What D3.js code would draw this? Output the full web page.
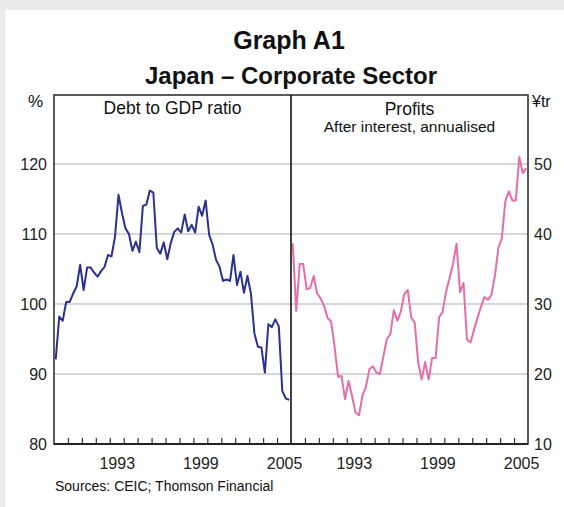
<!DOCTYPE html>
<html>
<head>
<meta charset="utf-8">
<script src="https://d3js.org/d3.v7.min.js"></script>
<style>
body {margin: 0; background: #ebebeb;}
svg {display: block; font-family: Arial, "Liberation Sans", sans-serif;}
.grid line {stroke: #a9aeb4; stroke-width: 1.2;}
.frame {stroke: #333; stroke-width: 1.6; fill: none;}
.lbl text {font-size: 16px; fill: #222;}
.lbl path {display: none;}
.ticks path {display: none;}
.ticks line {stroke: #333; stroke-width: 1.2;}
</style>
</head>
<body>
<svg width=564 height=507></svg>
<script>
// quarterly, 1989 Q1 .. 2005 Q4
var debtToGdp = [
  92.1, 98.2, 97.6, 100.3,
  100.3, 101.5, 102.5, 105.6,
  102.0, 105.2, 105.2, 104.5,
  103.9, 104.7, 105.3, 107.0,
  106.8, 109.6, 115.6, 113.0,
  110.8, 110.0, 107.6, 108.9,
  107.4, 114.0, 114.2, 116.2,
  115.9, 108.0, 107.2, 108.8,
  106.4, 108.7, 110.3, 110.8,
  110.2, 112.8, 110.4, 111.3,
  110.2, 113.9, 112.6, 114.8,
  109.9, 108.5, 106.3, 105.3,
  103.3, 103.5, 103.3, 107.0,
  102.7, 104.6, 101.6, 104.0,
  101.5, 95.8, 93.9, 93.8,
  90.2, 97.1, 96.7, 97.8,
  96.8, 87.6, 86.5, 86.3
];
var profits = [
  38.7, 29.0, 35.7, 35.7,
  32.1, 32.3, 34.0, 31.5,
  30.8, 29.7, 28.0, 27.5,
  23.9, 19.6, 19.7, 16.4,
  19.0, 16.9, 14.5, 14.1,
  16.9, 18.2, 20.7, 21.1,
  20.2, 20.0, 22.5, 25.0,
  25.7, 29.1, 27.6, 28.9,
  31.4, 32.0, 28.1, 27.3,
  21.6, 19.2, 21.7, 19.2,
  22.3, 22.3, 28.1, 28.9,
  31.8, 33.7, 35.8, 38.6,
  31.7, 33.0, 24.9, 24.5,
  26.3, 28.0, 29.6, 31.0,
  30.6, 31.3, 34.0, 38.0,
  39.4, 44.7, 46.1, 44.8,
  44.8, 51.0, 48.7, 49.4
];
var leftTicks = [80, 90, 100, 110, 120];
var rightTicks = [10, 20, 30, 40, 50];
var yearLabels = [1993, 1999, 2005];
var startYear = 1989, endYear = 2006;

var svg = d3.select("svg");
svg.append("rect").attr("x", 5).attr("y", 10).attr("width", 559).attr("height", 497).attr("fill", "white");

var pTop = 95, pBottom = 444, pLeft = 54, pMid = 291, pRight = 528;

var xL = d3.scaleLinear().domain([startYear, endYear]).range([pLeft, pMid]);
var xR = d3.scaleLinear().domain([startYear, endYear]).range([pMid, pRight]);
var yL = d3.scaleLinear().domain([80, 120]).range([pBottom, 164]);
var yR = d3.scaleLinear().domain([10, 50]).range([pBottom, 164]);

function qx(i) { return startYear + (i + 0.5) / 4; }

// gridlines
svg.append("g").attr("class", "grid")
  .selectAll("line").data(leftTicks.slice(1)).enter().append("line")
  .attr("x1", pLeft).attr("x2", pRight)
  .attr("y1", function(d) { return yL(d); })
  .attr("y2", function(d) { return yL(d); });

// lines
var lineL = d3.line().x(function(d, i) { return xL(qx(i)); }).y(function(d) { return yL(d); });
var lineR = d3.line().x(function(d, i) { return xR(qx(i)); }).y(function(d) { return yR(d); });

svg.append("path").datum(debtToGdp).attr("d", lineL)
  .attr("fill", "none").attr("stroke", "#2b3191").attr("stroke-width", 2).attr("stroke-linejoin", "round");
svg.append("path").datum(profits).attr("d", lineR)
  .attr("fill", "none").attr("stroke", "#e46ea8").attr("stroke-width", 2).attr("stroke-linejoin", "round");

// year ticks (inside, pointing up)
var yearTicks = d3.range(startYear + 1, endYear);
svg.append("g").attr("class", "ticks").attr("transform", "translate(0," + pBottom + ")")
  .call(d3.axisBottom(xL).tickValues(yearTicks).tickSize(-6).tickFormat(""));
svg.append("g").attr("class", "ticks").attr("transform", "translate(0," + pBottom + ")")
  .call(d3.axisBottom(xR).tickValues(yearTicks).tickSize(-6).tickFormat(""));

// year labels (centred mid-year)
var fmtYear = function(d) { return Math.floor(d); };
var mids = yearLabels.map(function(d) { return d + 0.5; });
svg.append("g").attr("class", "lbl").attr("transform", "translate(0," + pBottom + ")")
  .call(d3.axisBottom(xL).tickValues(mids).tickSize(0).tickPadding(14).tickFormat(fmtYear));
svg.append("g").attr("class", "lbl").attr("transform", "translate(0," + pBottom + ")")
  .call(d3.axisBottom(xR).tickValues(mids).tickSize(0).tickPadding(14).tickFormat(fmtYear));

// y labels
svg.append("g").attr("class", "lbl").attr("transform", "translate(" + pLeft + ",0)")
  .call(d3.axisLeft(yL).tickValues(leftTicks).tickSize(0).tickPadding(7));
svg.append("g").attr("class", "lbl").attr("transform", "translate(" + pRight + ",0)")
  .call(d3.axisRight(yR).tickValues(rightTicks).tickSize(0).tickPadding(6));

// frame
svg.append("rect").attr("class", "frame")
  .attr("x", pLeft).attr("y", pTop).attr("width", pRight - pLeft).attr("height", pBottom - pTop);
svg.append("line").attr("x1", pMid).attr("x2", pMid).attr("y1", pTop).attr("y2", pBottom)
  .attr("stroke", "#111").attr("stroke-width", 1.6);
svg.append("line").attr("x1", pLeft).attr("x2", pRight).attr("y1", pBottom).attr("y2", pBottom)
  .attr("stroke", "#222").attr("stroke-width", 2);

// texts
function txt(x, y, s, size, weight, anchor) {
  svg.append("text").attr("x", x).attr("y", y).text(s)
    .attr("font-size", size).attr("font-weight", weight || "normal")
    .attr("text-anchor", anchor || "middle").attr("fill", "#111");
}
txt(289, 49, "Graph A1", 25, "bold");
txt(291, 84, "Japan – Corporate Sector", 24, "bold");
txt(43, 107, "%", 17, null, "end");
txt(532, 107, "¥tr", 16, null, "start");
txt((pLeft + pMid) / 2, 114, "Debt to GDP ratio", 17.5);
txt((pMid + pRight) / 2, 115, "Profits", 17.5);
txt((pMid + pRight) / 2, 132, "After interest, annualised", 15.5);
txt(55, 491, "Sources: CEIC; Thomson Financial", 14, null, "start");
</script>
</body>
</html>
